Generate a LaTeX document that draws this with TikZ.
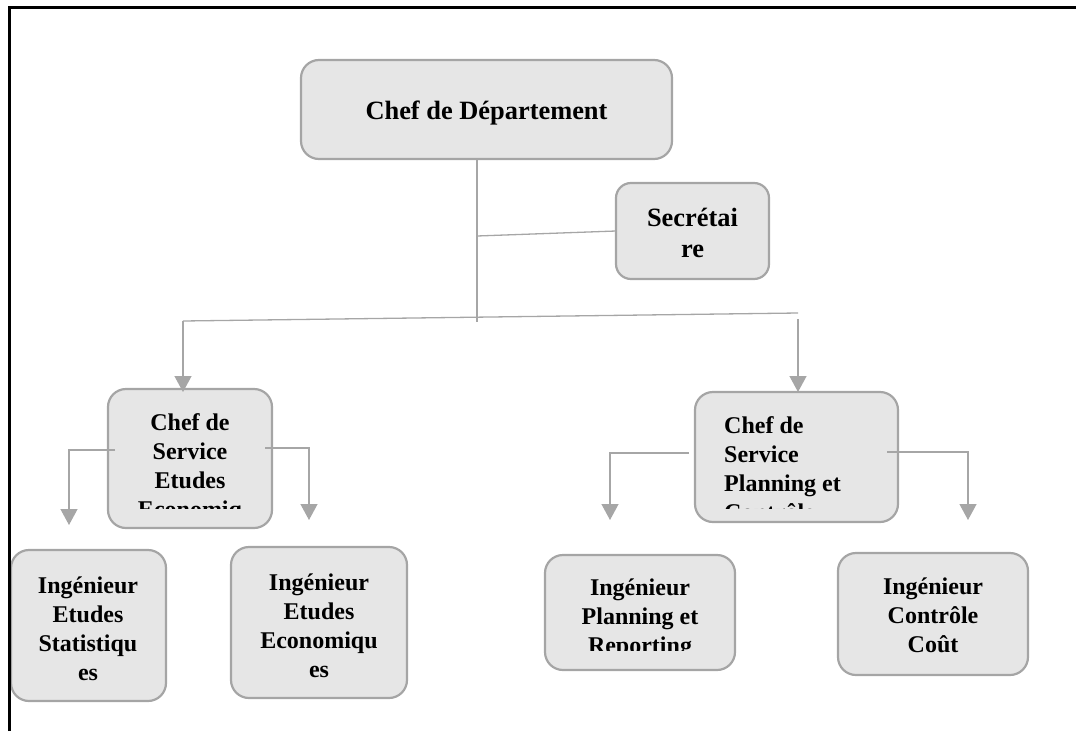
\documentclass[tikz,border=0pt]{standalone}
\usepackage{fontspec}
\setmainfont{Liberation Serif}
\usetikzlibrary{arrows.meta,calc}
\definecolor{boxfill}{HTML}{E6E6E6}
\definecolor{boxline}{HTML}{A5A5A5}
\definecolor{linkgray}{HTML}{A6A6A6}
\begin{document}
\begin{tikzpicture}[x=1pt,y=-1pt,
  box/.style={draw=boxline, fill=boxfill, line width=2.2pt, rounded corners=18pt,
              inner sep=0pt, outer sep=0pt, anchor=north west},
  bigtxt/.style={font=\fontsize{26.4}{31}\selectfont\bfseries, inner sep=0pt, align=center},
  smalltxt/.style={font=\fontsize{24}{29}\selectfont\bfseries, inner sep=0pt, align=center},
  conn/.style={draw=linkgray, line width=1.3pt},
  arr/.style={conn, -{Triangle[width=17pt,length=16pt]}}]
\useasboundingbox (0,0) rectangle (1076,731);

% boxes
\node[box, minimum width=371pt, minimum height=99pt] (head) at (301,60) {};
\node[box, minimum width=153pt, minimum height=96pt, rounded corners=15pt] (sec) at (616,183) {};
\node[box, minimum width=164pt, minimum height=139pt] (cs1) at (108,389) {};
\node[box, minimum width=203pt, minimum height=130pt] (cs2) at (695,392) {};
\node[box, minimum width=155pt, minimum height=151pt] (ing1) at (11,550) {};
\node[box, minimum width=176pt, minimum height=151pt] (ing2) at (231,547) {};
\node[box, minimum width=190pt, minimum height=115pt] (ing3) at (545,555) {};
\node[box, minimum width=190pt, minimum height=122pt] (ing4) at (838,553) {};

% labels
\node[bigtxt, anchor=base] (headtxt) at ($(head.center)+(0,9.5)$) {Chef de Département};
\node[bigtxt, anchor=north] (sectxt) at (692.5,206) {\rule{0pt}{20pt}Secrétai\\re};
\begin{scope}
  \clip (108,389) rectangle (272,508);
  \node[smalltxt, anchor=north] (cs1txt) at (190,410)
    {\rule{0pt}{20pt}Chef de\\Service\\Etudes\\Economiq};
\end{scope}
\begin{scope}
  \clip (695,392) rectangle (898,508);
  \node[smalltxt, align=left, anchor=north west] (cs2txt) at (724,413)
    {\rule{0pt}{20pt}Chef de\\Service\\Planning et\\Contrôle};
\end{scope}
\node[smalltxt, anchor=north] (ing1txt) at (88,573)
  {\rule{0pt}{20pt}Ingénieur\\Etudes\\Statistiqu\\es};
\node[smalltxt, anchor=north] (ing2txt) at (319,570)
  {\rule{0pt}{20pt}Ingénieur\\Etudes\\Economiqu\\es};
\begin{scope}
  \clip (545,555) rectangle (735,650);
  \node[smalltxt, anchor=north] (ing3txt) at (640,575)
    {\rule{0pt}{20pt}Ingénieur\\Planning et\\Reporting};
\end{scope}
\node[smalltxt, anchor=north] (ing4txt) at (933,574)
  {\rule{0pt}{20pt}Ingénieur\\Contrôle\\Coût};

% connectors
\coordinate (j1) at (477,236);
\coordinate (j2) at (477,322);
\draw[conn] (head.south -| j1) -- (j2);
\draw[conn] (j1) -- (sec.west);
\coordinate (bl) at (183,321);
\coordinate (br) at (798,313);
\draw[conn] (bl) -- (br);
\draw[arr] (bl) -- ($(bl |- cs1.north)+(0,3)$);
\coordinate (br2) at (798,319);
\draw[arr] (br2) -- (br2 |- cs2.north);

\coordinate (a1) at (69,525);
\coordinate (a2) at (309,520);
\coordinate (a3) at (610,520);
\coordinate (a4) at (968,520);
\draw[arr] ($(cs1.west)+(7,-8.5)$) -| (a1);
\draw[arr] ($(cs1.east)+(-7,-10.5)$) -| (a2);
\draw[arr] ($(cs2.west)+(-6,-4)$) -| (a3);
\draw[arr] ($(cs2.east)+(-11,-5)$) -| (a4);

% page frame
\draw[line width=3pt] (9,731) -- (9,7) -- (1076,7);
\end{tikzpicture}
\end{document}
